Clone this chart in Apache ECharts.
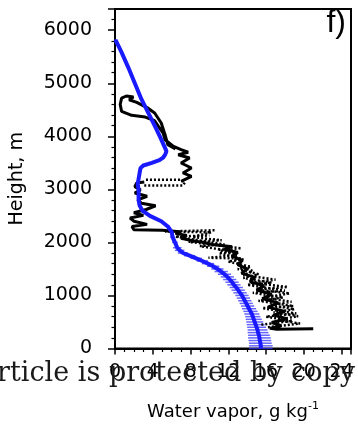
<!DOCTYPE html>
<html>
<head>
<meta charset="utf-8">
<script src="https://cdn.jsdelivr.net/npm/echarts@6/dist/echarts.min.js"></script>
<style>
  html, body { margin: 0; padding: 0; background: #fff; }
  #chart { width: 358px; height: 426px; }
</style>
</head>
<body>
<div id="chart"></div>
<script>
// Model profile: height (m), water vapor (g/kg), horizontal spread (g/kg)
const modelHeight = [0, 50, 100, 150, 200, 250, 300, 350, 400, 450, 500, 550, 600, 650, 700, 750, 800, 850, 900, 950,
  1000, 1050, 1100, 1150, 1200, 1250, 1300, 1350, 1400, 1450, 1500, 1550, 1600, 1650, 1700, 1750, 1800, 1850, 1900,
  2000, 2100, 2200, 2300, 2400, 2500, 2600, 2700, 2800, 2900, 3000, 3100, 3200, 3300, 3400, 3450, 3500, 3550, 3600,
  3650, 3720, 3800, 3900, 4000, 4200, 4450, 4700, 5000, 5300, 5600, 5820];
const modelVapor = [15.45, 15.45, 15.4, 15.35, 15.3, 15.25, 15.15, 15.1, 15.0, 14.9, 14.8, 14.7, 14.6, 14.5, 14.35, 14.2, 14.05, 13.9, 13.75, 13.6,
  13.45, 13.25, 13.05, 12.85, 12.6, 12.4, 12.15, 11.9, 11.6, 11.25, 10.85, 10.4, 9.85, 9.25, 8.6, 7.9, 7.2, 6.85, 6.6,
  6.35, 6.1, 6.0, 5.6, 4.9, 3.7, 2.9, 2.6, 2.5, 2.5, 2.5, 2.4, 2.5, 2.6, 2.7, 3.0, 3.9, 4.7, 5.1,
  5.3, 5.45, 5.25, 5.0, 4.75, 4.2, 3.5, 2.8, 2.1, 1.4, 0.65, 0.05];
const modelSpread = [1.25, 1.25, 1.2, 1.2, 1.2, 1.15, 1.1, 1.05, 1.0, 0.95, 0.9, 0.85, 0.8, 0.8, 0.75, 0.75, 0.7, 0.7, 0.7, 0.7,
  0.7, 0.7, 0.7, 0.7, 0.7, 0.7, 0.7, 0.7, 0.7, 0.7, 0.65, 0.65, 0.65, 0.6, 0.6, 0.6, 0.55, 0.5, 0.45,
  0.3, 0.25, 0.2, 0.2, 0.2, 0.15, 0.15, 0.15, 0.15, 0.15, 0.15, 0.15, 0.15, 0.15, 0.15, 0.15, 0.15, 0.15, 0.15,
  0.15, 0.15, 0.15, 0.15, 0.15, 0.15, 0.15, 0.15, 0.15, 0.15, 0.15, 0.1];

// Aircraft sounding, lower continuous trace
const lowerVapor = [21.0, 17.0, 16.4, 17.6, 16.6, 18.2, 16.8, 18.0, 16.2, 17.3, 15.6, 16.6, 15.0, 15.8, 14.3, 14.8, 13.4, 14.0, 13.0, 13.5,
  12.4, 13.0, 11.6, 12.4, 10.4, 9.0, 8.0, 7.0, 7.6, 6.4, 6.9, 5.0, 2.0, 1.8, 3.4, 2.0, 1.6, 3.0, 2.0, 3.3,
  4.3, 2.8, 2.4, 3.4, 2.1, 2.7, 2.1, 2.3, 3.1];
const lowerHeight = [370, 365, 380, 430, 490, 560, 630, 700, 780, 860, 940, 1020, 1100, 1180, 1260, 1340, 1420, 1500, 1580, 1660,
  1740, 1810, 1870, 1920, 1960, 2010, 2040, 2080, 2130, 2170, 2200, 2230, 2240, 2300, 2340, 2400, 2460, 2510, 2560, 2620,
  2690, 2740, 2800, 2870, 2930, 2990, 3050, 3120, 3140];

// Aircraft sounding, upper continuous trace (up to the top loop and back)
const upperVapor = [7.0, 8.1, 7.2, 8.1, 7.0, 7.9, 6.7, 7.75, 7.0, 6.2, 5.3, 5.1, 4.6, 4.2, 3.2, 1.76, 0.7, 0.55, 0.7, 1.2,
  1.95, 1.5, 2.3, 3.5, 4.2, 4.9, 5.3, 5.6, 6.4];
const upperHeight = [3150, 3246, 3309, 3403, 3497, 3590, 3653, 3700, 3748, 3810, 3936, 4062, 4187, 4294, 4363, 4395, 4470, 4600, 4720, 4760,
  4740, 4690, 4640, 4530, 4440, 4250, 4030, 3840, 3760];

// Sparse sounding segments (dotted)
const sparseVapor = [16.2, 19.6, 17.2, 19.4, 16.8, 19.0, 16.4, 18.7, 15.8, 18.5, 15.0, 18.3, 14.4, 17.0, 13.6, 14.6, 13.2, 12.7, 9.9, 12.9,
  11.0, 13.4, 7.8, 11.3, 8.2, 10.2, 5.3, 10.6];
const sparseHeight = [400, 470, 540, 610, 680, 740, 820, 880, 960, 1040, 1110, 1160, 1240, 1300, 1380, 1460, 1560, 1700, 1710, 1760,
  1860, 1890, 2010, 2040, 2100, 2190, 2205, 2230];
const sparse2Vapor = [15.5, 18.8, 16.0, 19.2, 15.6, 18.9, 15.2, 17.8, 14.6, 18.0, 14.0, 16.6, 13.6, 15.2, 13.0, 14.4, 12.0, 13.6,
  11.0, 12.8, 9.0, 11.6, 6.4, 10.0];
const sparse2Height = [450, 520, 600, 660, 760, 800, 900, 960, 1050, 1090, 1200, 1240, 1330, 1400, 1500, 1540, 1640, 1680,
  1800, 1820, 1930, 1960, 2110, 2130];
const legVapor = [3.1, 7.2, 7.4, 7.0, 3.1];
const legHeight = [3075, 3075, 3130, 3183, 3183];

const xTickStep = 4;
const yTickStep = 1000;

const pairs = (xs, ys) => xs.map((v, i) => [v, ys[i]]);
const modelData = pairs(modelVapor, modelHeight);
const spreadData = modelVapor.map((v, i) => [v, modelHeight[i], modelSpread[i]]);

const chart = echarts.init(document.getElementById('chart'), null, { renderer: 'canvas' });
const FONT = 'DejaVu Sans';
const dotted = { color: '#000', width: 2.5, type: [2, 2] };

chart.setOption({
  animation: false,
  backgroundColor: '#fff',
  grid: {
    left: 113, right: 7, top: 9, bottom: 77,
    show: true, borderColor: '#000', borderWidth: 2
  },
  xAxis: {
    type: 'value', min: 0, max: 25, interval: xTickStep,
    name: 'Water vapor, g kg{sup|-1}',
    nameLocation: 'middle', nameGap: 52,
    nameTextStyle: {
      color: '#000', fontFamily: FONT, fontSize: 18,
      rich: { sup: { fontSize: 11, fontFamily: FONT, color: '#000', padding: [0, 0, 12, 0] } }
    },
    axisLine: { show: true, lineStyle: { color: '#000', width: 2 } },
    axisTick: { show: true, inside: false, length: 6, lineStyle: { color: '#000', width: 1.5 } },
    minorTick: { show: true, splitNumber: 4, length: 3.5, lineStyle: { color: '#000', width: 1.2 } },
    axisLabel: { color: '#000', fontFamily: FONT, fontSize: 19, margin: 14, showMaxLabel: false },
    splitLine: { show: false }
  },
  yAxis: {
    type: 'value', min: 0, max: 6400, interval: yTickStep,
    name: 'Height, m', nameLocation: 'middle', nameGap: 88,
    nameTextStyle: { color: '#000', fontFamily: FONT, fontSize: 19 },
    axisLine: { show: true, lineStyle: { color: '#000', width: 2 } },
    axisTick: { show: true, inside: false, length: 7, lineStyle: { color: '#000', width: 1.5 } },
    minorTick: { show: true, splitNumber: 5, length: 3.5, lineStyle: { color: '#000', width: 1.2 } },
    axisLabel: {
      color: '#000', fontFamily: FONT, fontSize: 19, margin: 23, showMaxLabel: false,
      formatter: v => String(v)
    },
    splitLine: { show: false }
  },
  graphic: [
    {
      type: 'text', right: 12, top: 7, z: 100,
      style: { text: 'f)', fill: '#000', font: '32px "Liberation Sans"' }
    },
    {
      type: 'text', x: 355, y: 374, z: 200,
      style: {
        text: 'article is protected by copy', fill: '#1a1a1a',
        font: '27px "DejaVu Serif"',
        textAlign: 'right', textVerticalAlign: 'middle',
        align: 'right', verticalAlign: 'middle'
      }
    }
  ],
  series: [
    {
      type: 'custom', name: 'spread', z: 2,
      data: spreadData,
      renderItem: function (params, api) {
        const a = api.coord([api.value(0) - api.value(2), api.value(1)]);
        const b = api.coord([api.value(0) + api.value(2), api.value(1)]);
        return {
          type: 'line',
          shape: { x1: a[0], y1: a[1], x2: b[0], y2: b[1] },
          style: { stroke: 'rgba(50,50,255,0.75)', lineWidth: 1.5 }
        };
      }
    },
    {
      type: 'line', name: 'lower', z: 3, showSymbol: false,
      data: pairs(lowerVapor, lowerHeight),
      lineStyle: { color: '#000', width: 3 }
    },
    {
      type: 'line', name: 'upper', z: 3, showSymbol: false,
      data: pairs(upperVapor, upperHeight),
      lineStyle: { color: '#000', width: 3 }
    },
    {
      type: 'line', name: 'sparse', z: 3, showSymbol: false,
      data: pairs(sparseVapor, sparseHeight),
      lineStyle: dotted
    },
    {
      type: 'line', name: 'sparse2', z: 3, showSymbol: false,
      data: pairs(sparse2Vapor, sparse2Height),
      lineStyle: dotted
    },
    {
      type: 'line', name: 'leg', z: 3, showSymbol: false,
      data: pairs(legVapor, legHeight),
      lineStyle: dotted
    },
    {
      type: 'line', name: 'model', z: 4, showSymbol: false,
      data: modelData,
      lineStyle: { color: '#1a1aff', width: 4 }
    }
  ]
});
</script>
</body>
</html>
